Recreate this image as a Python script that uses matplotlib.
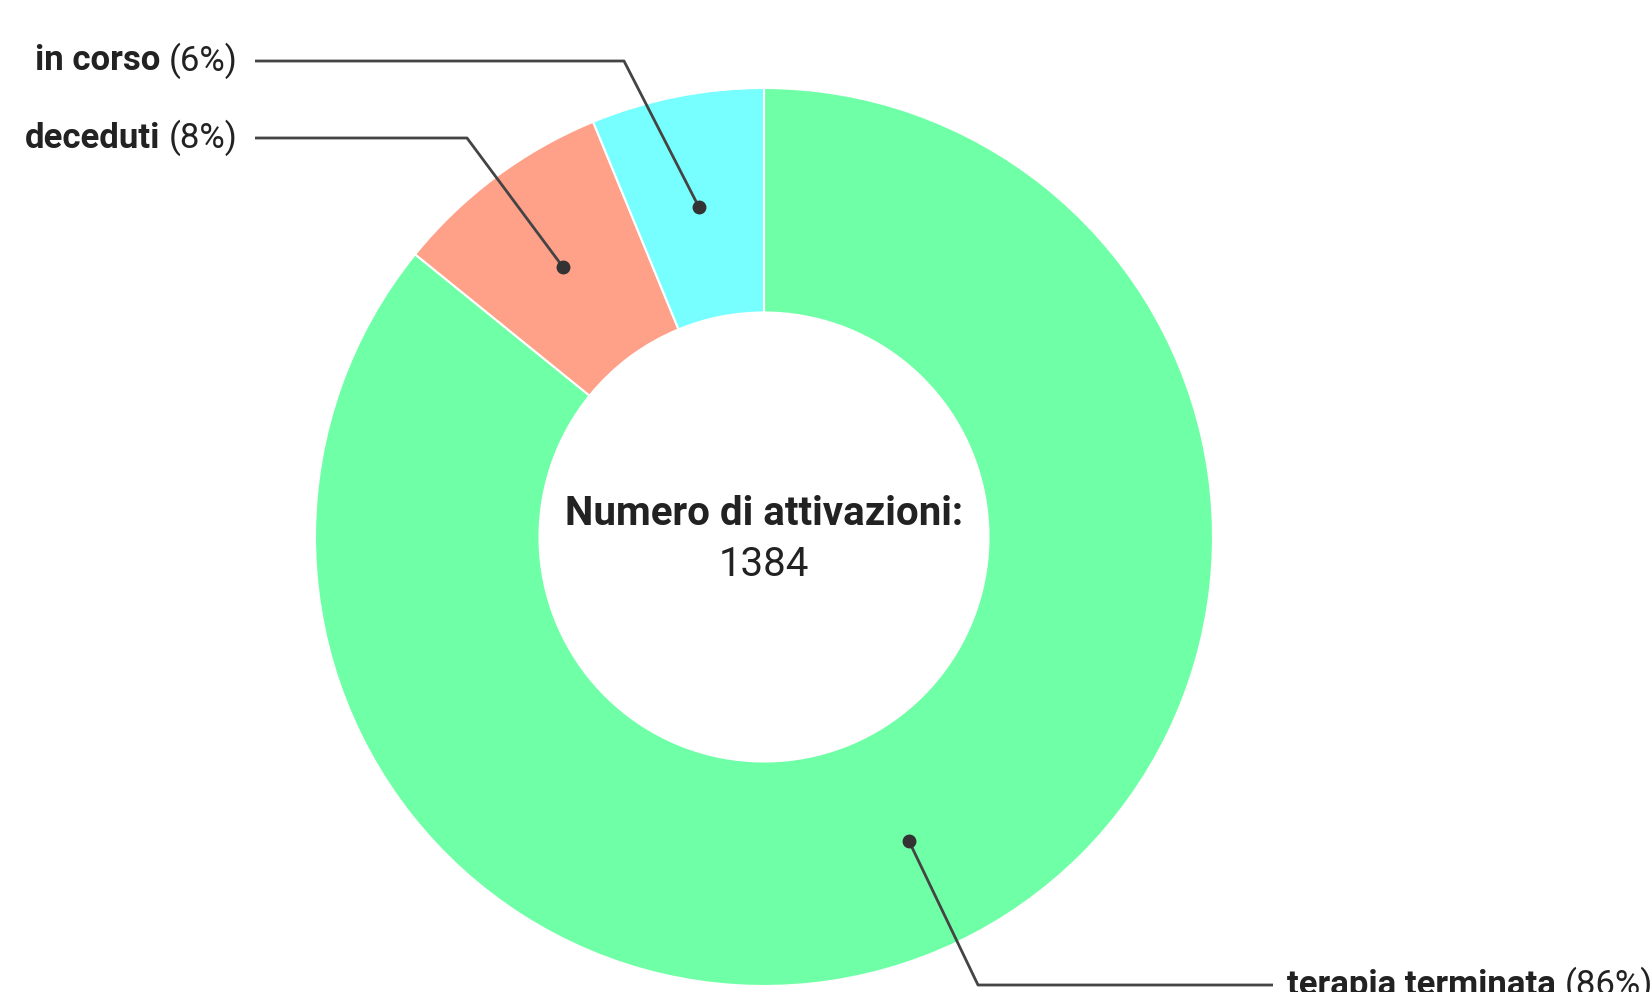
import numpy as np
import matplotlib
matplotlib.use("Agg")
import matplotlib.pyplot as plt

labels = ["terapia terminata", "deceduti", "in corso"]
values = [1188, 110, 86]
colors = ["#6fffa6", "#ffa088", "#77ffff"]
center_title = "Numero di attivazioni:"

W, H = 1652, 992
fig = plt.figure(figsize=(W / 100, H / 100), dpi=100)
ax = fig.add_axes([0, 0, 1, 1])
ax.set_xlim(0, W)
ax.set_ylim(0, H)
ax.set_aspect("equal")
ax.axis("off")

cx, cy = 764, H - 537
R = 449
wedges, _ = ax.pie(values, colors=colors, startangle=90, counterclock=False,
                   radius=R, center=(cx, cy),
                   wedgeprops=dict(width=R * 0.5, edgecolor="white", linewidth=1.5))
ax.set_xlim(0, W)
ax.set_ylim(0, H)

total = sum(values)
ax.text(cx, H - 514, center_title, ha="center", va="center", fontsize=29,
        fontweight="bold", family="Roboto", color="#222222")
ax.text(cx, H - 565, str(total), ha="center", va="center", fontsize=29,
        family="Roboto", color="#222222")

# leader line layout (elbow, line end, text anchor, side)
layout = {
    "in corso": dict(elbow=(624, 61), end=(255, 61), tx=238, side="left"),
    "deceduti": dict(elbow=(467, 138), end=(255, 138), tx=238, side="left"),
    "terapia terminata": dict(elbow=(978, 985), end=(1273, 985), tx=1287, side="right"),
}

fig.canvas.draw()
renderer = fig.canvas.get_renderer()
lc = "#444444"
fs = 25
for w, lab, v in zip(wedges, labels, values):
    ang = np.deg2rad((w.theta1 + w.theta2) / 2)
    dx = cx + 0.75 * R * np.cos(ang)
    dy = cy + 0.75 * R * np.sin(ang)
    L = layout[lab]
    ex, ey = L["elbow"][0], H - L["elbow"][1]
    fx, fy = L["end"][0], H - L["end"][1]
    ax.plot([dx, ex, fx], [dy, ey, fy], color=lc, lw=2, solid_capstyle="butt", zorder=5)
    ax.plot(dx, dy, "o", color="#333333", ms=9, zorder=6)
    pct = f"({round(v / total * 100)}%)"
    if L["side"] == "left":
        t2 = ax.text(L["tx"], fy, pct, ha="right", va="center", fontsize=fs,
                     family="Roboto", color="#222222")
        bb = t2.get_window_extent(renderer)
        ax.text(bb.x0 - 9, fy, lab, ha="right", va="center", fontsize=fs,
                fontweight="bold", family="Roboto", color="#222222")
    else:
        t1 = ax.text(L["tx"], fy, lab, ha="left", va="center", fontsize=fs,
                     fontweight="bold", family="Roboto", color="#222222")
        bb = t1.get_window_extent(renderer)
        ax.text(bb.x1 + 9, fy, pct, ha="left", va="center", fontsize=fs,
                family="Roboto", color="#222222")

fig.savefig("out.png", dpi=100, facecolor="white")
